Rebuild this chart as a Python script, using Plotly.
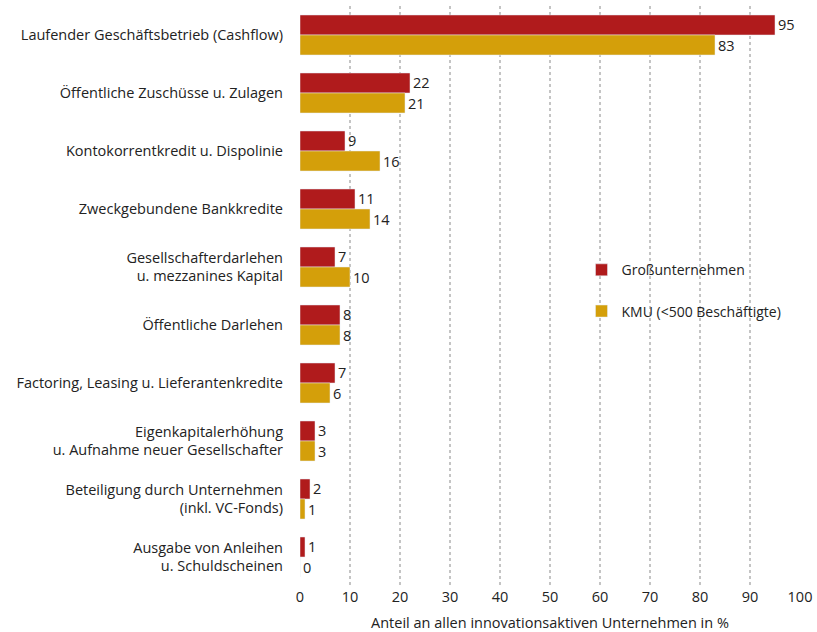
import plotly.graph_objects as go

categories = [
    "Laufender Geschäftsbetrieb (Cashflow)",
    "Öffentliche Zuschüsse u. Zulagen",
    "Kontokorrentkredit u. Dispolinie",
    "Zweckgebundene Bankkredite",
    "Gesellschafterdarlehen<br>u. mezzanines Kapital",
    "Öffentliche Darlehen",
    "Factoring, Leasing u. Lieferantenkredite",
    "Eigenkapitalerhöhung<br>u. Aufnahme neuer Gesellschafter",
    "Beteiligung durch Unternehmen<br>(inkl. VC-Fonds)",
    "Ausgabe von Anleihen<br>u. Schuldscheinen",
]
gross = [95, 22, 9, 11, 7, 8, 7, 3, 2, 1]
kmu = [83, 21, 16, 14, 10, 8, 6, 3, 1, 0]
x_ticks = list(range(0, 101, 10))

RED = "#B01B1C"
GOLD = "#D49F0A"
FONT = "Open Sans"

fig = go.Figure()
fig.add_trace(go.Bar(
    y=categories, x=gross, orientation="h", name="Großunternehmen",
    marker_color=RED, text=gross, textposition="outside",
    textfont=dict(size=14.5, color="#222"), cliponaxis=False,
    legendgroup="a",
))
fig.add_trace(go.Bar(
    y=categories, x=kmu, orientation="h", name="KMU (<500 Beschäftigte)",
    marker_color=GOLD, text=kmu, textposition="outside",
    textfont=dict(size=14.5, color="#222"), cliponaxis=False,
    legendgroup="b",
))

fig.update_layout(
    width=817, height=632,
    margin=dict(l=300, r=17, t=6, b=46),
    barmode="group", bargap=0.31, bargroupgap=0,
    plot_bgcolor="white", paper_bgcolor="white",
    font=dict(family=FONT, size=14.5, color="#222"),
    legend=dict(
        x=0.563, y=0.572, xanchor="left", yanchor="top",
        traceorder="grouped", tracegroupgap=20, itemwidth=30,
        font=dict(size=14), bgcolor="rgba(0,0,0,0)",
    ),
)
fig.update_xaxes(
    range=[0, 100], tickvals=x_ticks, ticktext=[str(v) for v in x_ticks],
    showgrid=True, gridcolor="#c4c4c4", griddash="dot", gridwidth=1.5,
    zeroline=False, showline=False, ticks="",
    tickfont=dict(size=14.5),
    title=dict(text="Anteil an allen innovationsaktiven Unternehmen in %",
               font=dict(size=14.5), standoff=22),
    automargin=False,
)
fig.update_yaxes(
    autorange="reversed", showgrid=False, zeroline=False, showline=False,
    ticks="", ticklabelstandoff=16, tickfont=dict(size=14.5), automargin=False,
)

fig.write_html("out.html", config={"displayModeBar": False},
               post_script="document.body.style.margin='0';")
